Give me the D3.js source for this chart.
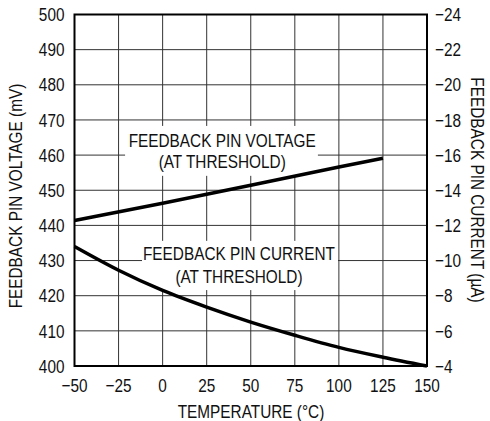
<!DOCTYPE html>
<html>
<head>
<meta charset="utf-8">
<script src="https://cdn.jsdelivr.net/npm/d3@7"></script>
<style>
  body { margin: 0; background: #fff; }
  svg text { font-family: "Liberation Sans", Arial, sans-serif; fill: #111; font-size: 18.5px; }
</style>
</head>
<body>
<div id="chart"></div>
<script>
// data
const tempTicks = [-50, -25, 0, 25, 50, 75, 100, 125, 150];
const voltTicks = [400, 410, 420, 430, 440, 450, 460, 470, 480, 490, 500];
const currTicks = [-4, -6, -8, -10, -12, -14, -16, -18, -20, -22, -24];

const voltTemp = [-50, 0, 50, 100, 125];
const voltVals = [441.4, 446.3, 451.4, 456.6, 459.1];

const currTemp = [-50, -25, 0, 25, 50, 75, 100, 125, 150];
const currVals = [-10.8, -9.45, -8.3, -7.35, -6.5, -5.75, -5.06, -4.5, -4.0];

const width = 490, height = 421;
const margin = { top: 14.5, right: 63, bottom: 55, left: 74.5 };
const iw = width - margin.left - margin.right;
const ih = height - margin.top - margin.bottom;
const squeeze = 0.83; // condensed look

const svg = d3.select('#chart').append('svg')
    .attr('width', width)
    .attr('height', height);

const g = svg.append('g').attr('transform', `translate(${margin.left},${margin.top})`);

const x = d3.scaleLinear().domain([-50, 150]).range([0, iw]);
const yV = d3.scaleLinear().domain([400, 500]).range([ih, 0]);
const yC = d3.scaleLinear().domain([-4, -24]).range([ih, 0]);

const fmt = d => d < 0 ? '\u2212' + Math.abs(d) : String(d);

// narrow text helper
function label(parent, tx, ty, str, anchor, rot, dy) {
    return parent.append('text')
        .attr('transform', `translate(${tx},${ty}) rotate(${rot || 0}) scale(${squeeze},1)`)
        .attr('text-anchor', anchor)
        .attr('dy', dy || 0)
        .text(str);
}

// grid
g.append('g').selectAll('line').data(tempTicks).enter().append('line')
    .attr('x1', d => x(d)).attr('x2', d => x(d))
    .attr('y1', 0).attr('y2', ih)
    .attr('stroke', '#333').attr('stroke-width', 1);
g.append('g').selectAll('line').data(voltTicks).enter().append('line')
    .attr('x1', 0).attr('x2', iw)
    .attr('y1', d => yV(d)).attr('y2', d => yV(d))
    .attr('stroke', '#333').attr('stroke-width', 1);

// label boxes (temp / mV extents) and text
const labels = [
    { lines: ['FEEDBACK PIN VOLTAGE', '(AT THRESHOLD)'], cx: 33.8, base: [462.2, 456.2], box: [-21.3, 468.3, 88.1, 454.1] },
    { lines: ['FEEDBACK PIN CURRENT', '(AT THRESHOLD)'], cx: 43.3, base: [430.2, 423.7], box: [-11.7, 435.6, 99.5, 421.6] }
];
labels.forEach(l => {
    g.append('rect')
        .attr('x', x(l.box[0])).attr('y', yV(l.box[1]))
        .attr('width', x(l.box[2]) - x(l.box[0])).attr('height', yV(l.box[3]) - yV(l.box[1]))
        .attr('fill', '#fff');
});

// curves
const lineV = d3.line().x((d, i) => x(voltTemp[i])).y(d => yV(d));
const lineC = d3.line().x((d, i) => x(currTemp[i])).y(d => yC(d)).curve(d3.curveMonotoneX);

g.append('path').attr('d', lineV(voltVals))
    .attr('fill', 'none').attr('stroke', '#000').attr('stroke-width', 3.5);
g.append('path').attr('d', lineC(currVals))
    .attr('fill', 'none').attr('stroke', '#000').attr('stroke-width', 3.5);

labels.forEach(l => {
    l.lines.forEach((s, i) => label(g, x(l.cx), yV(l.base[i]), s, 'middle'));
});

// frame
g.append('rect').attr('width', iw).attr('height', ih)
    .attr('fill', 'none').attr('stroke', '#000').attr('stroke-width', 2);

// tick labels
voltTicks.forEach(d => label(g, -10, yV(d), d, 'end', 0, '0.36em'));
currTicks.forEach(d => label(g, iw + 8, yC(d), fmt(d), 'start', 0, '0.36em'));
tempTicks.forEach(d => label(g, x(d), ih + 26, fmt(d), 'middle'));

// axis titles
label(g, 22 - margin.left, 196 - margin.top, 'FEEDBACK PIN VOLTAGE (mV)', 'middle', -90);
label(g, 471 - margin.left, 190 - margin.top, 'FEEDBACK PIN CURRENT (\u00B5A)', 'middle', 90);
label(g, 251 - margin.left, ih + 51.5, 'TEMPERATURE (\u00B0C)', 'middle');
</script>
</body>
</html>
